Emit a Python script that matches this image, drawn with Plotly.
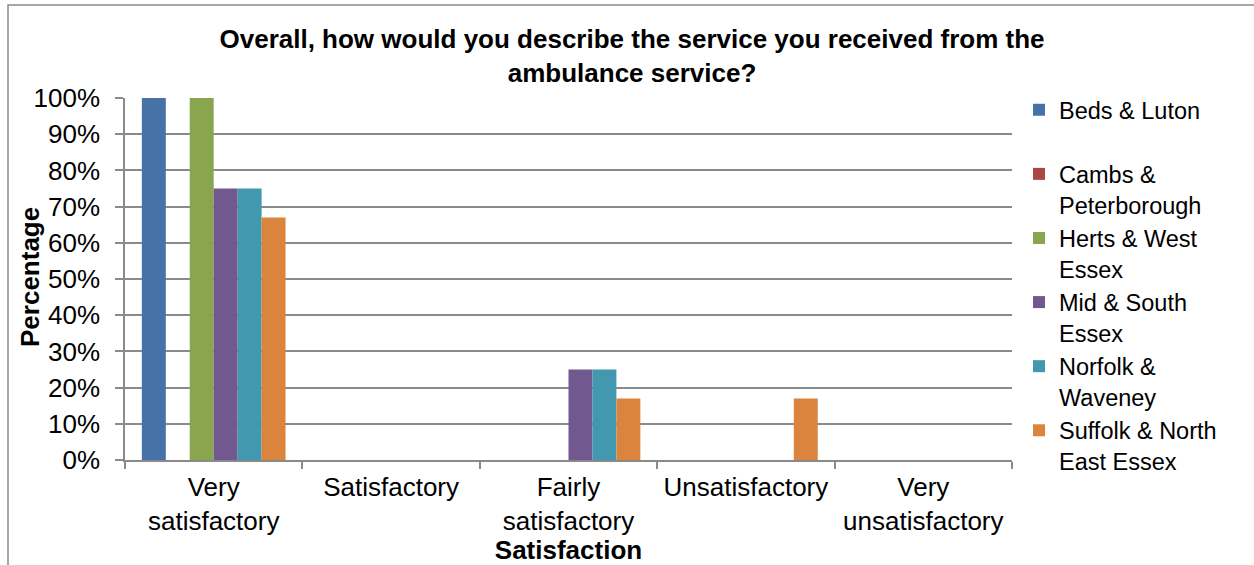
import plotly.graph_objects as go

categories = ["Very<br>satisfactory", "Satisfactory", "Fairly<br>satisfactory", "Unsatisfactory", "Very<br>unsatisfactory"]
series_names = ["Beds & Luton<br>&nbsp;", "Cambs &<br>Peterborough", "Herts & West<br>Essex", "Mid & South<br>Essex", "Norfolk &<br>Waveney", "Suffolk & North<br>East Essex"]
beds = [100, 0, 0, 0, 0]
cambs = [0, 0, 0, 0, 0]
herts = [100, 0, 0, 0, 0]
mid_south = [75, 0, 25, 0, 0]
norfolk = [75, 0, 25, 0, 0]
suffolk = [67, 0, 17, 17, 0]
colors = ["#4672A8", "#AA4643", "#89A54E", "#71588F", "#4198AF", "#DB843D"]
y_ticks = list(range(0, 101, 10))

FONT = "Liberation Sans, Arial, sans-serif"

fig = go.Figure()
for name, vals, col in zip(series_names, [beds, cambs, herts, mid_south, norfolk, suffolk], colors):
    fig.add_trace(go.Bar(x=categories, y=vals, name=name, marker=dict(color=col, line=dict(width=0))))

L, R, T, B = 125, 242, 98, 105
W, H = 1254, 565
pw, ph = W - L - R, H - T - B

def px_x(x):
    return (x - L) / pw

def px_y(y):
    return (H - B - y) / ph

fig.update_layout(
    width=W, height=H,
    margin=dict(l=L, r=R, t=T, b=B, autoexpand=False),
    paper_bgcolor="white", plot_bgcolor="white",
    font=dict(family=FONT, size=26, color="black"),
    barmode="group", bargap=0.19, bargroupgap=0,
    title=dict(
        text="<b>Overall, how would you describe the service you received from the<br>ambulance service?</b>",
        x=0.504, xanchor="center", xref="container",
        y=1 - 48 / H, yanchor="middle", yref="container",
        font=dict(size=26, family=FONT, color="black"),
    ),
    xaxis=dict(
        showline=True, linecolor="#8a8a8a", linewidth=1.5,
        ticks="outside", tickson="boundaries", ticklen=7, tickcolor="#8a8a8a", tickwidth=1.5,
        tickfont=dict(size=26), showgrid=False, ticklabelstandoff=3,
        title=dict(text="<b>Satisfaction</b>", font=dict(size=26), standoff=3),
    ),
    yaxis=dict(
        range=[0, 100], tickvals=y_ticks, ticktext=[f"{v}%" for v in y_ticks],
        showline=True, linecolor="#8a8a8a", linewidth=1.5,
        ticks="outside", ticklen=8, tickcolor="#8a8a8a", tickwidth=1.5,
        showgrid=True, gridcolor="#8a8a8a", gridwidth=1.5,
        tickfont=dict(size=26), zeroline=False, ticklabelstandoff=10,
    ),
    legend=dict(
        x=px_x(1019), xanchor="left", y=px_y(88), yanchor="top",
        font=dict(size=23.5), valign="top", tracegroupgap=0,
        bgcolor="rgba(0,0,0,0)", maxheight=600,
    ),
    annotations=[dict(text="<b>Percentage</b>", textangle=-90, showarrow=False,
                      xref="paper", yref="paper", x=px_x(30), y=px_y(277),
                      xanchor="center", yanchor="middle", font=dict(size=26))],
    shapes=[dict(type="rect", xref="paper", yref="paper",
                 x0=px_x(8), x1=px_x(1262), y0=px_y(5), y1=px_y(572),
                 line=dict(color="#8a8a8a", width=1.5), fillcolor="rgba(0,0,0,0)", layer="below")],
)

fig.write_html("out.html", config={"displayModeBar": False},
               post_script="document.body.style.margin='0px';")
